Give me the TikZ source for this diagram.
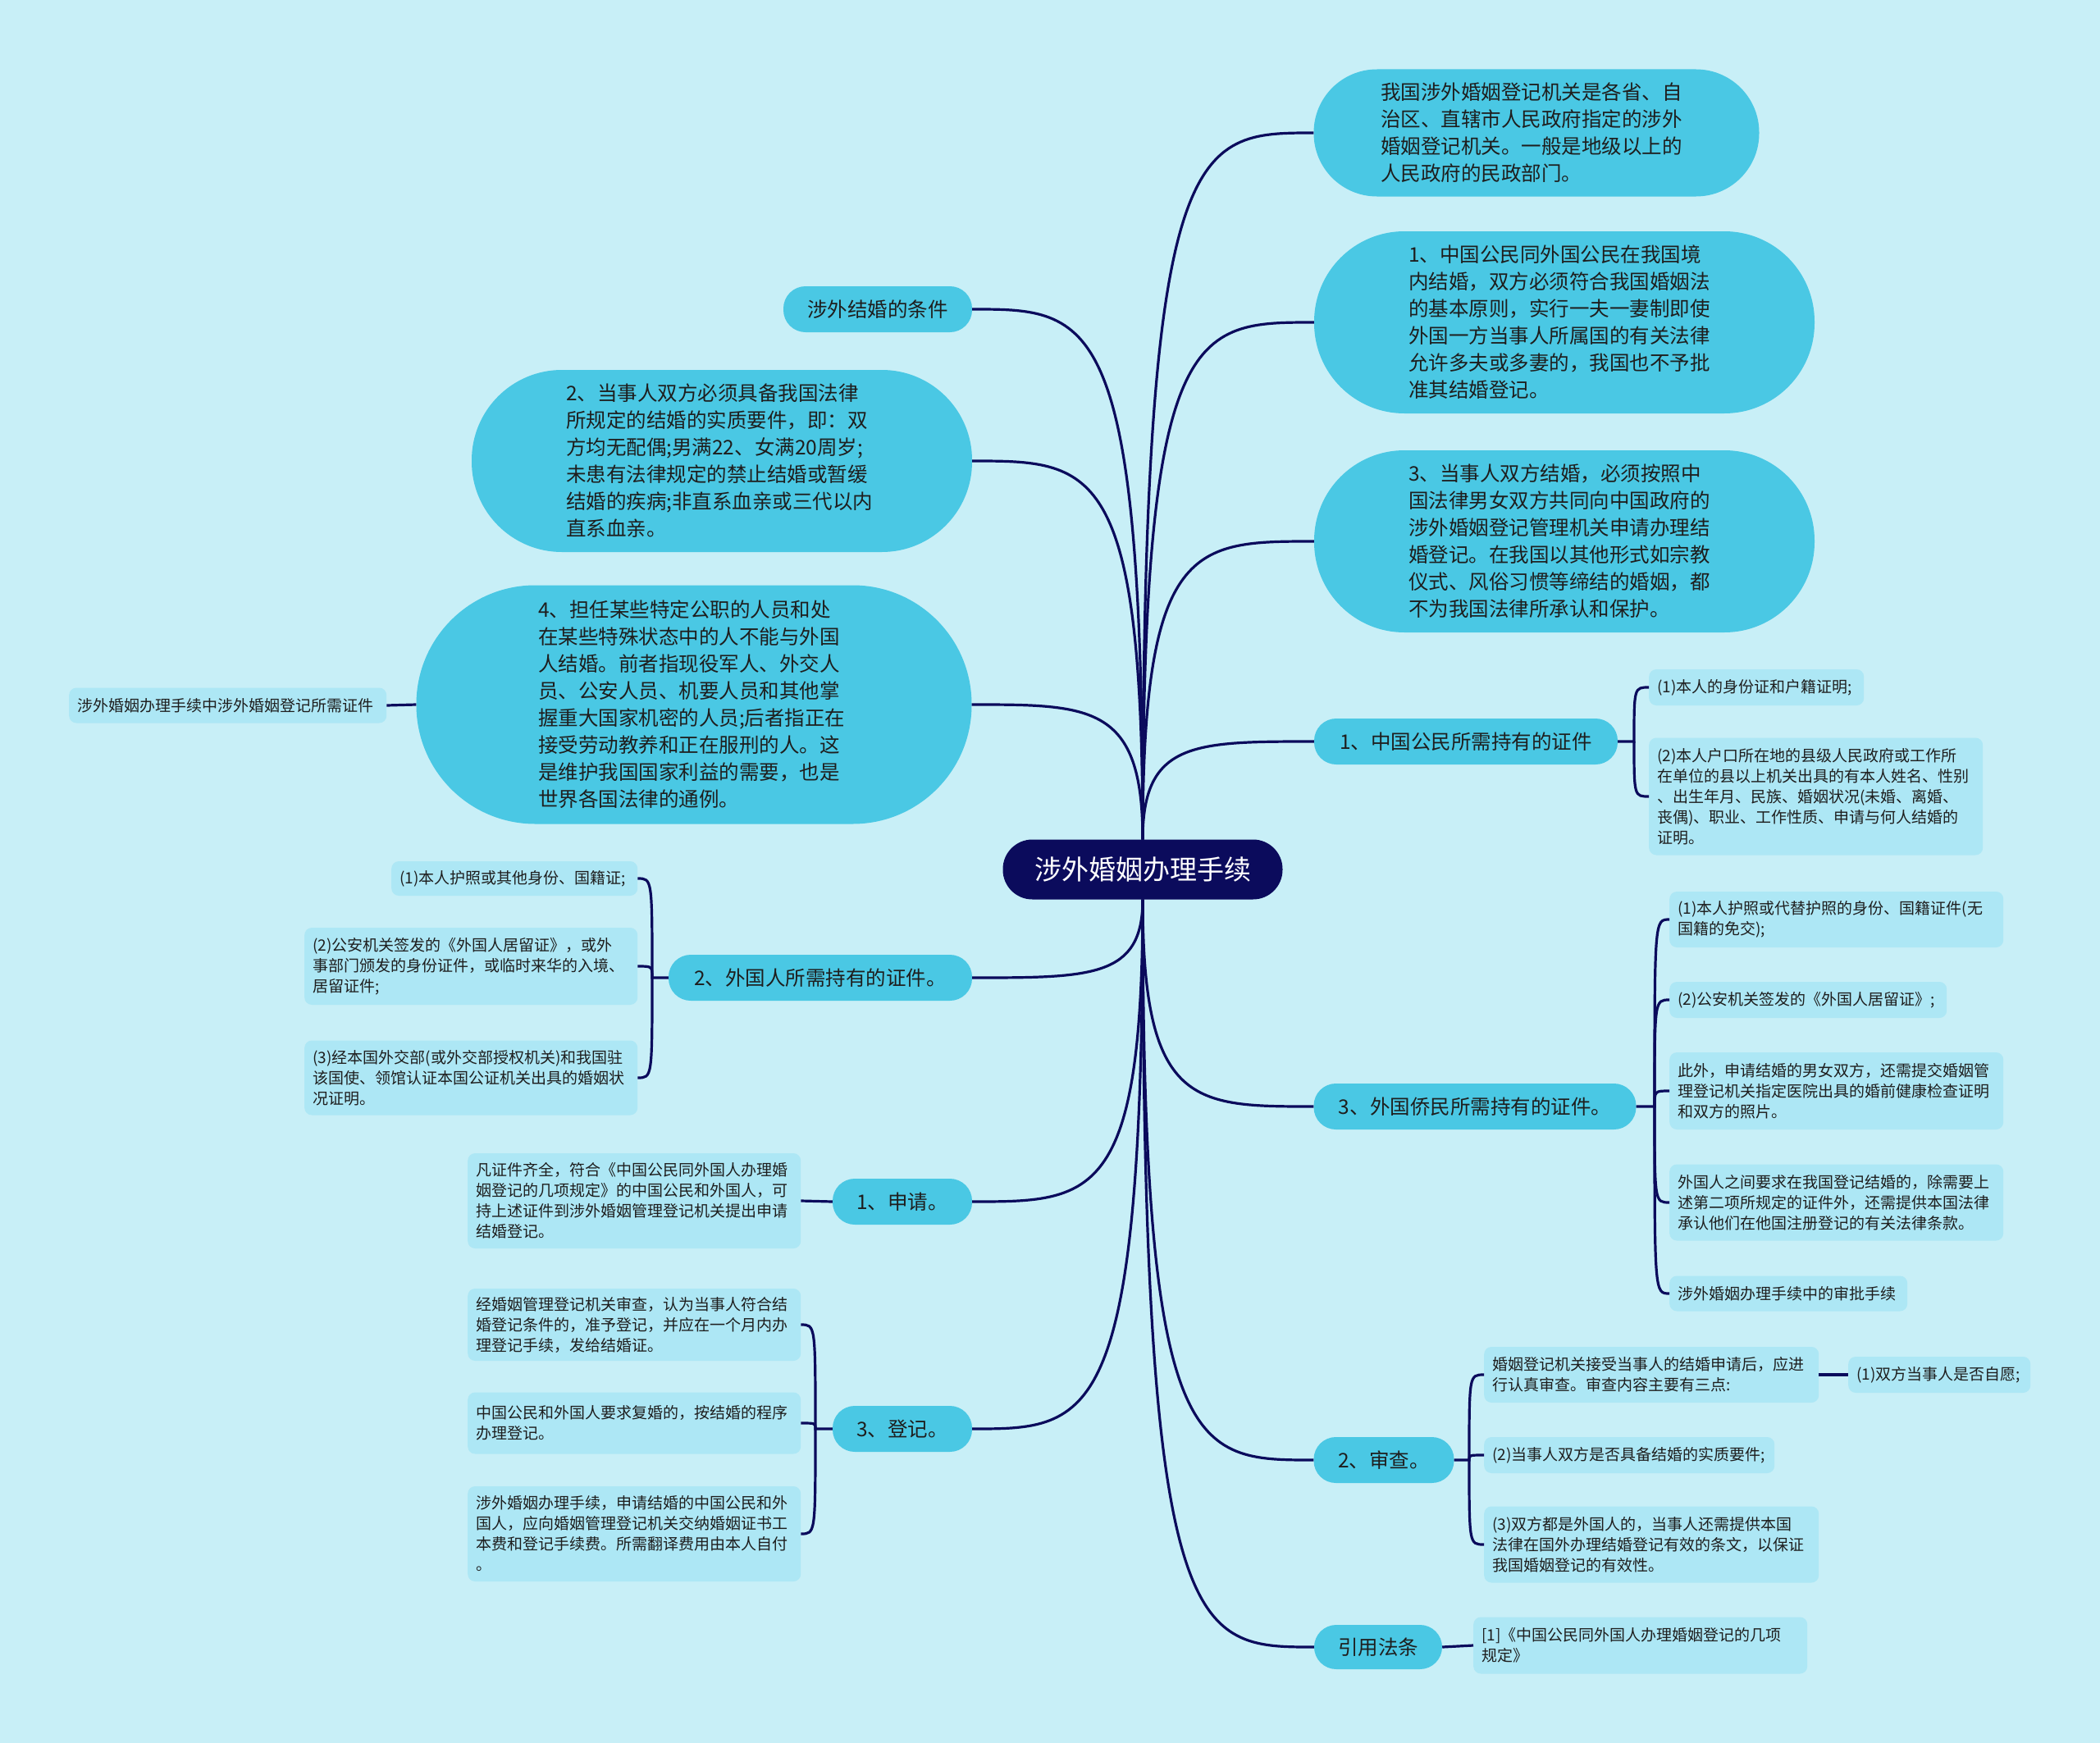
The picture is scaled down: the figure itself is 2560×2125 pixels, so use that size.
\documentclass[tikz,border=0pt]{standalone}
\usepackage{fontspec}
\newfontfamily\cjk{Noto Sans CJK SC}
\usetikzlibrary{calc}
\definecolor{bg}{HTML}{C8EFF7}
\definecolor{lone}{HTML}{4AC8E4}
\definecolor{leafc}{HTML}{ADE7F5}
\definecolor{navy}{HTML}{0B0B5C}
\definecolor{txt}{HTML}{1E1E1E}
\begin{document}
\begin{tikzpicture}[x=1pt,y=-1pt,
  conn/.style={draw=navy, line width=3.2pt},
  root/.style={fill=navy, text=white, font=\cjk\fontsize{33pt}{40pt}\selectfont, minimum width=341pt, minimum height=73pt, rounded corners=36pt, inner sep=0pt},
  pill/.style={fill=lone, text=txt, font=\cjk\fontsize{24.5pt}{33pt}\selectfont, minimum height=56pt, rounded corners=27pt, inner sep=0pt},
  bubble/.style={fill=lone, text=txt, font=\cjk\fontsize{24.5pt}{33pt}\selectfont, align=left, text width=380pt, inner sep=0pt},
  leaf/.style={fill=leafc, text=txt, font=\cjk\fontsize{19pt}{25pt}\selectfont, align=left, inner xsep=10pt, inner ysep=0pt, rounded corners=9pt, anchor=west},
  spoke/.style={to path={let \p1=(\tikztostart), \p2=(\tikztotarget) in .. controls (\x1,\y2) and ({\x1+0.3*(\x2-\x1)},\y2) .. (\tikztotarget) \tikztonodes}},
  brk/.style={to path={let \p1=(\tikztostart), \p2=(\tikztotarget) in .. controls (\x1,\y2) and (\x1,\y2) .. (\tikztotarget) \tikztonodes}}
]
\useasboundingbox (0,0) rectangle (2560,2125);
\fill[bg] (0,0) rectangle (2560,2125);

% root
\node[root] (root) at (1393,1060) {涉外婚姻办理手续};

% right level 1
\node[bubble, minimum width=543pt, minimum height=155pt, rounded corners=77pt] (r1) at (1873,162) {我国涉外婚姻登记机关是各省、自\\治区、直辖市人民政府指定的涉外\\婚姻登记机关。一般是地级以上的\\人民政府的民政部门。};
\node[bubble, minimum width=610pt, minimum height=222pt, rounded corners=110pt] (r2) at (1907,393) {1、中国公民同外国公民在我国境\\内结婚，双方必须符合我国婚姻法\\的基本原则，实行一夫一妻制即使\\外国一方当事人所属国的有关法律\\允许多夫或多妻的，我国也不予批\\准其结婚登记。};
\node[bubble, minimum width=610pt, minimum height=222pt, rounded corners=110pt] (r3) at (1907,660) {3、当事人双方结婚，必须按照中\\国法律男女双方共同向中国政府的\\涉外婚姻登记管理机关申请办理结\\婚登记。在我国以其他形式如宗教\\仪式、风俗习惯等缔结的婚姻，都\\不为我国法律所承认和保护。};
\node[pill, minimum width=370pt] (n1) at (1787,904) {1、中国公民所需持有的证件};
\node[pill, minimum width=393pt] (n3) at (1798,1349) {3、外国侨民所需持有的证件。};
\node[pill, minimum width=171pt] (nsc) at (1687,1780) {2、审查。};
\node[pill, minimum width=156pt, minimum height=54pt] (nref) at (1680,2008) {引用法条};

% left level 1
\node[pill, minimum width=230pt] (lc) at (1070,377) {涉外结婚的条件};
\node[bubble, minimum width=610pt, minimum height=222pt, rounded corners=110pt] (l2) at (880,562) {2、当事人双方必须具备我国法律\\所规定的结婚的实质要件，即：双\\方均无配偶;男满22、女满20周岁;\\未患有法律规定的禁止结婚或暂缓\\结婚的疾病;非直系血亲或三代以内\\直系血亲。};
\node[bubble, minimum width=677pt, minimum height=291pt, rounded corners=145pt] (l4) at (846,859) {4、担任某些特定公职的人员和处\\在某些特殊状态中的人不能与外国\\人结婚。前者指现役军人、外交人\\员、公安人员、机要人员和其他掌\\握重大国家机密的人员;后者指正在\\接受劳动教养和正在服刑的人。这\\是维护我国国家利益的需要，也是\\世界各国法律的通例。};
\node[pill, minimum width=370pt] (lfor) at (1000,1192) {2、外国人所需持有的证件。};
\node[pill, minimum width=170pt] (lapp) at (1100,1465) {1、申请。};
\node[pill, minimum width=170pt] (lreg) at (1100,1742) {3、登记。};

% right leaves
\node[leaf, text width=242pt, minimum height=44pt] (a1) at (2010,838) {(1)本人的身份证和户籍证明;};
\node[leaf, text width=387pt, minimum height=143pt] (a2) at (2010,971) {(2)本人户口所在地的县级人民政府或工作所\\在单位的县以上机关出具的有本人姓名、性别\\、出生年月、民族、婚姻状况(未婚、离婚、\\丧偶)、职业、工作性质、申请与何人结婚的\\证明。};
\node[leaf, text width=387pt, minimum height=68pt] (b1) at (2035,1121) {(1)本人护照或代替护照的身份、国籍证件(无\\国籍的免交);};
\node[leaf, text width=318pt, minimum height=44pt] (b2) at (2035,1219) {(2)公安机关签发的《外国人居留证》;};
\node[leaf, text width=387pt, minimum height=94pt] (b3) at (2035,1330) {此外，申请结婚的男女双方，还需提交婚姻管\\理登记机关指定医院出具的婚前健康检查证明\\和双方的照片。};
\node[leaf, text width=387pt, minimum height=93pt] (b4) at (2035,1466) {外国人之间要求在我国登记结婚的，除需要上\\述第二项所规定的证件外，还需提供本国法律\\承认他们在他国注册登记的有关法律条款。};
\node[leaf, text width=270pt, minimum height=43pt] (b5) at (2035,1577) {涉外婚姻办理手续中的审批手续};
\node[leaf, text width=388pt, minimum height=68pt] (c1) at (1809,1676) {婚姻登记机关接受当事人的结婚申请后，应进\\行认真审查。审查内容主要有三点:};
\node[leaf, text width=202pt, minimum height=44pt] (c1a) at (2253,1676) {(1)双方当事人是否自愿;};
\node[leaf, text width=334pt, minimum height=44pt] (c2) at (1809,1774) {(2)当事人双方是否具备结婚的实质要件;};
\node[leaf, text width=388pt, minimum height=93pt] (c3) at (1809,1883) {(3)双方都是外国人的，当事人还需提供本国\\法律在国外办理结婚登记有效的条文，以保证\\我国婚姻登记的有效性。};
\node[leaf, text width=387pt, minimum height=69pt] (d1) at (1796,2006) {[1]《中国公民同外国人办理婚姻登记的几项\\规定》};

% left leaves
\node[leaf, text width=367pt, minimum height=43pt] (h1) at (84,860) {涉外婚姻办理手续中涉外婚姻登记所需证件};
\node[leaf, text width=280pt, minimum height=42pt] (e1) at (477,1071) {(1)本人护照或其他身份、国籍证;};
\node[leaf, text width=386pt, minimum height=94pt] (e2) at (371,1178) {(2)公安机关签发的《外国人居留证》，或外\\事部门颁发的身份证件，或临时来华的入境、\\居留证件;};
\node[leaf, text width=386pt, minimum height=91pt] (e3) at (371,1314) {(3)经本国外交部(或外交部授权机关)和我国驻\\该国使、领馆认证本国公证机关出具的婚姻状\\况证明。};
\node[leaf, text width=386pt, minimum height=116pt] (f1) at (570,1464) {凡证件齐全，符合《中国公民同外国人办理婚\\姻登记的几项规定》的中国公民和外国人，可\\持上述证件到涉外婚姻管理登记机关提出申请\\结婚登记。};
\node[leaf, text width=386pt, minimum height=88pt] (g1) at (570,1615) {经婚姻管理登记机关审查，认为当事人符合结\\婚登记条件的，准予登记，并应在一个月内办\\理登记手续，发给结婚证。};
\node[leaf, text width=386pt, minimum height=75pt] (g2) at (570,1735) {中国公民和外国人要求复婚的，按结婚的程序\\办理登记。};
\node[leaf, text width=386pt, minimum height=116pt] (g3) at (570,1870) {涉外婚姻办理手续，申请结婚的中国公民和外\\国人，应向婚姻管理登记机关交纳婚姻证书工\\本费和登记手续费。所需翻译费用由本人自付\\。};

% junctions
\coordinate (jA) at (1992,904);
\coordinate (jB) at (2017,1349);
\coordinate (jC) at (1791,1780);
\coordinate (jE) at (795,1192);
\coordinate (jG) at (994,1742);

% spokes from root
\draw[conn] (root.north) to[spoke] (r1.west);
\draw[conn] (root.north) to[spoke] (r2.west);
\draw[conn] (root.north) to[spoke] (r3.west);
\draw[conn] (root.north) to[spoke] (n1.west);
\draw[conn] (root.north) to[spoke] (lc.east);
\draw[conn] (root.north) to[spoke] (l2.east);
\draw[conn] (root.north) to[spoke] (l4.east);
\draw[conn] (root.south) to[spoke] (n3.west);
\draw[conn] (root.south) to[spoke] (nsc.west);
\draw[conn] (root.south) to[spoke] (nref.west);
\draw[conn] (root.south) to[spoke] (lfor.east);
\draw[conn] (root.south) to[spoke] (lapp.east);
\draw[conn] (root.south) to[spoke] (lreg.east);

% brackets
\draw[conn] (n1.east) -- (jA) to[brk] (a1.west);
\draw[conn] (jA) to[brk] (a2.west);
\draw[conn] (n3.east) -- (jB) to[brk] (b1.west);
\draw[conn] (jB) to[brk] (b2.west);
\draw[conn] (jB) to[brk] (b3.west);
\draw[conn] (jB) to[brk] (b4.west);
\draw[conn] (jB) to[brk] (b5.west);
\draw[conn] (nsc.east) -- (jC) to[brk] (c1.west);
\draw[conn] (jC) to[brk] (c2.west);
\draw[conn] (jC) to[brk] (c3.west);
\draw[conn] (lfor.west) -- (jE) to[brk] (e1.east);
\draw[conn] (jE) to[brk] (e2.east);
\draw[conn] (jE) to[brk] (e3.east);
\draw[conn] (lreg.west) -- (jG) to[brk] (g1.east);
\draw[conn] (jG) to[brk] (g2.east);
\draw[conn] (jG) to[brk] (g3.east);

% straight links
\draw[conn] (c1.east) -- (c1a.west);
\draw[conn] (nref.east) -- (d1.west);
\draw[conn] (lapp.west) -- (f1.east);
\draw[conn] (l4.west) -- (h1.east);
\end{tikzpicture}
\end{document}
